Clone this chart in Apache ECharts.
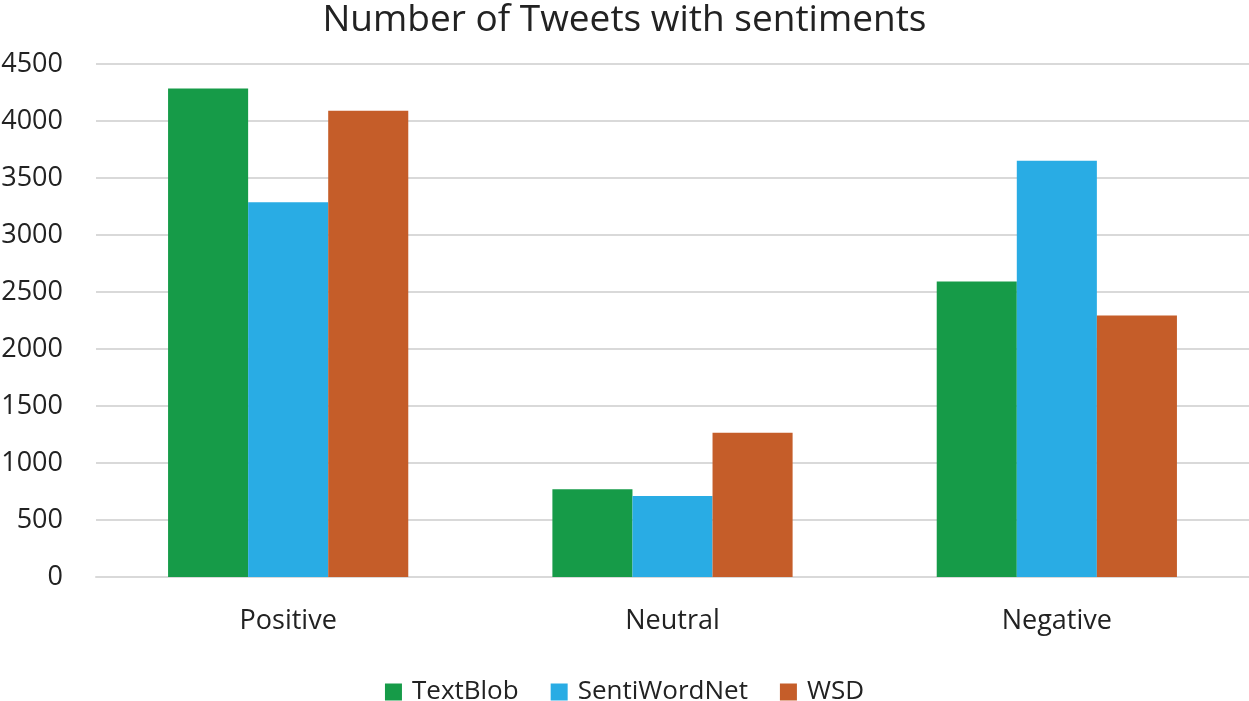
<!DOCTYPE html>
<html><head><meta charset="utf-8">
<script src="https://cdn.jsdelivr.net/npm/echarts@6/dist/echarts.min.js"></script>
<style>html,body{margin:0;padding:0;background:#fff}#c{width:1249px;height:701px}</style>
</head><body><div id="c"></div>
<script>
const categories = ["Positive", "Neutral", "Negative"];
const textBlob = [4285, 770, 2592];
const sentiWordNet = [3288, 710, 3651];
const wsd = [4090, 1265, 2294];
const seriesNames = ["TextBlob", "SentiWordNet", "WSD"];
const colors = ["#169b48", "#29ace4", "#c55d29"];
const font = "Open Sans";
const chart = echarts.init(document.getElementById('c'));
chart.setOption({
  animation: false,
  color: colors,
  title: { text: "Number of Tweets with sentiments", left: "center", top: -3,
    textStyle: { fontFamily: font, fontSize: 37, fontWeight: "normal", color: "#222" } },
  legend: { top: 679, left: "center", padding: 0, itemWidth: 17, itemHeight: 17, itemGap: 32,
    icon: "rect", textStyle: { fontFamily: font, fontSize: 26, color: "#222", padding: [0, 0, 0, 5] } },
  grid: { left: 96, right: 0, top: 64, bottom: 124, outerBoundsMode: "none" },
  xAxis: { type: "category", data: categories,
    axisLine: { lineStyle: { color: "#d9d9d9", width: 2 } }, axisTick: { show: false },
    axisLabel: { fontFamily: font, fontSize: 27, color: "#222", margin: 31 } },
  yAxis: { type: "value", min: 0, max: 4500, interval: 500,
    axisLine: { show: false }, axisTick: { show: false },
    splitLine: { lineStyle: { color: "#d9d9d9", width: 2 } },
    axisLabel: { fontFamily: font, fontSize: 27, color: "#222", margin: 33,
      formatter: v => String(v) } },
  series: [
    { name: seriesNames[0], type: "bar", data: textBlob, barGap: "0%", barCategoryGap: "37.5%" },
    { name: seriesNames[1], type: "bar", data: sentiWordNet, barGap: "0%", barCategoryGap: "37.5%" },
    { name: seriesNames[2], type: "bar", data: wsd, barGap: "0%", barCategoryGap: "37.5%" }
  ]
});
</script></body></html>
